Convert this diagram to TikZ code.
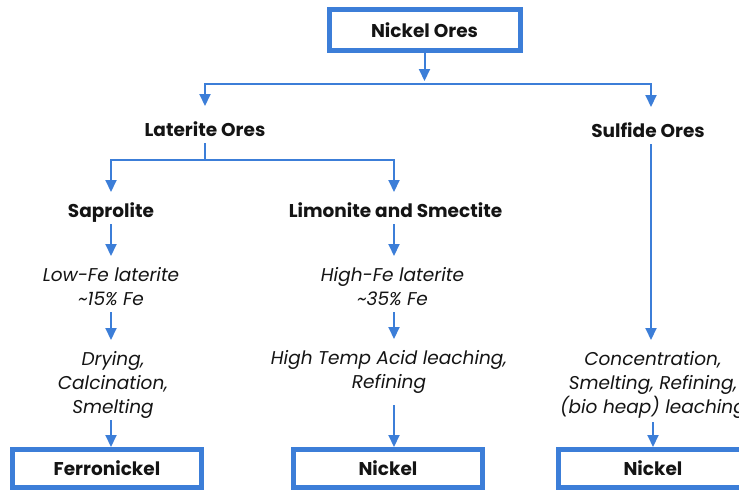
\documentclass[tikz,border=0pt]{standalone}
\usepackage{fontspec}
\setmainfont{Poppins}
\usetikzlibrary{arrows.meta}
\definecolor{flowblue}{RGB}{60,126,216}
\definecolor{inkdark}{RGB}{20,20,20}
\begin{document}
\begin{tikzpicture}[x=1pt,y=-1pt,
  conn/.style={draw=flowblue, line width=2pt},
  arr/.style={conn, -{Triangle[width=11pt,length=12pt]}},
  % text boxes reach 25pt above the first baseline and 7pt below the last one,
  % so connectors can run straight between their anchors
  ore/.style={text=inkdark, font=\fontsize{18.5}{24}\selectfont\bfseries,
    inner sep=0pt, outer sep=0pt, anchor=base, text height=25pt, text depth=7pt},
  note/.style={text=inkdark, font=\fontsize{18.5}{24}\selectfont\itshape,
    align=center, inner sep=0pt, outer sep=0pt, anchor=base, text depth=7pt},
  twoline/.style={note, text height=49pt},
  threeline/.style={note, text height=73pt},
  result/.style={draw=flowblue, line width=5pt, text=inkdark,
    font=\fontsize{18.5}{22}\selectfont\bfseries,
    minimum width=189pt, minimum height=38pt, inner sep=0pt}
]
\useasboundingbox (0,0) rectangle (739,491);
\clip (0,0) rectangle (739,491);

% root box
\node[result, minimum width=191pt, minimum height=41pt] (root) at (424.5,30) {Nickel Ores};

% ore families
\node[ore] (lat) at (205,136) {Laterite Ores};
\node[ore] (sul) at (648,137) {Sulfide Ores};

% laterite branches
\node[ore] (sap) at (111,217) {Saprolite};
\node[ore] (lim) at (395.5,217) {Limonite and Smectite};

% iron content (anchored on the baseline of the last line)
\node[twoline] (lowfe) at (111,305) {Low-Fe laterite\\\textasciitilde15\% Fe};
\node[twoline] (highfe) at (392.5,305) {High-Fe laterite\\\textasciitilde35\% Fe};

% processing routes
\node[threeline] (dry) at (113,413) {Drying,\\Calcination,\\Smelting};
\node[twoline] (acid) at (389,388) {High Temp Acid leaching,\\Refining};
\node[threeline] (conc) at (653,413) {Concentration,\\Smelting, Refining,\\(bio heap) leaching};

% products
\node[result] (ferro) at (107,468.5) {Ferronickel};
\node[result] (nimid) at (388,468.5) {Nickel};
\node[result] (niright) at (653,468.5) {Nickel};

% split below the root
\coordinate (barM) at (424.5,84);
\coordinate (barL) at (205,84);
\coordinate (barR) at (651,84);
\draw[arr, shorten >=3pt] (root.south) -- (barM);
\draw[conn, line cap=rect] (barL) -- (barR);
\draw[arr, shorten >=5pt] (barL) -- (barL |- lat.north);
\draw[arr, shorten >=5pt] (barR) -- (barR |- sul.north);

% split below the laterite ores
\coordinate (latL) at (111,160);
\coordinate (latM) at (205,160);
\coordinate (latR) at (394,160);
\draw[conn] (lat.south) -- (latM);
\draw[conn, line cap=rect] (latL) -- (latR);
\draw[arr] (latL) -- (latL |- sap.north);
\draw[arr] (latR) -- (latR |- lim.north);

% left chain
\draw[arr] (sap.south) -- (sap.south |- lowfe.north);
\draw[arr] (sap.south |- lowfe.south) -- (sap.south |- dry.north);
\draw[arr] (sap.south |- dry.south) -- (sap.south |- ferro.north);
% middle chain
\draw[arr] (latR |- lim.south) -- (latR |- highfe.north);
\draw[arr] (latR |- highfe.south) -- (latR |- acid.north);
\draw[arr, shorten <=10pt] (latR |- acid.south) -- (latR |- nimid.north);
% right chain
\draw[arr] (barR |- sul.south) -- (barR |- conc.north);
\draw[arr, shorten <=2pt] (conc.south) -- (conc.south |- niright.north);
\end{tikzpicture}
\end{document}
